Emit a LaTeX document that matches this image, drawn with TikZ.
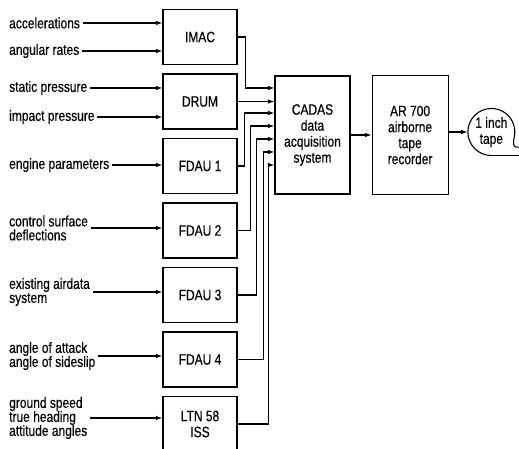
\documentclass[tikz,border=0pt]{standalone}
\usepackage{fontspec}
\setmainfont{Liberation Sans}[FakeStretch=0.8, FakeBold=0.4]
\usetikzlibrary{arrows.meta, positioning, shapes.geometric}
\tikzstyle{arrow} = [line width=1.1pt,-{Latex[length=6.5pt,width=4.5pt]}]
\tikzstyle{line} = [line width=1.1pt]
\tikzstyle{unit} = [rectangle, draw, line width=1.1pt, minimum width=74pt, minimum height=55pt, text centered, align=center, font=\fontsize{15}{16}\selectfont]
\tikzstyle{signal} = [anchor=west, align=left, inner sep=2.5pt, font=\fontsize{15}{14}\selectfont]

\begin{document}
\begin{tikzpicture}[x=1pt, y=1pt, node distance=64.5pt]
\useasboundingbox (0,0) rectangle (519,-449);

% Units
\node (imac) [unit] at (200,-37) {IMAC};
\node (drum) [unit, below of=imac] {DRUM};
\node (fdauone) [unit, below of=drum] {FDAU 1};
\node (fdautwo) [unit, below of=fdauone] {FDAU 2};
\node (fdauthree) [unit, below of=fdautwo] {FDAU 3};
\node (fdaufour) [unit, below of=fdauthree] {FDAU 4};
\node (ltn) [unit, below of=fdaufour] {LTN 58\\ISS};

\node (cadas) [unit, minimum width=75pt, minimum height=118pt] at (312.5,-135) {CADAS\\data\\acquisition\\system};
\node (recorder) [unit, minimum width=76pt, minimum height=119pt, right=21pt of cadas] {AR 700\\airborne\\tape\\recorder};
\node (tape) [circle, minimum size=47pt, inner sep=0pt, align=center, font=\fontsize{15}{16}\selectfont, right=19pt of recorder, yshift=3pt] {1 inch\\tape};

% Signals
\node (accel) [signal] at (6.5,-23) {accelerations};
\node (rates) [signal] at (6.5,-51) {angular rates};
\node (static) [signal] at (6.5,-88) {static pressure};
\node (impact) [signal] at (6.5,-117) {impact pressure};
\node (engine) [signal] at (6.5,-165) {engine parameters};
\node (surface) [signal] at (6.5,-228) {control surface\\deflections};
\node (airdata) [signal] at (6.5,-292) {existing airdata\\system};
\node (attack) [signal] at (6.5,-356) {angle of attack\\angle of sideslip};
\node (nav) [signal] at (6.5,-418) {ground speed\\true heading\\attitude angles};

\draw [arrow] (accel.east) -- (accel.east -| imac.west);
\draw [arrow] (rates.east) -- (rates.east -| imac.west);
\draw [arrow] (static.east) -- (static.east -| drum.west);
\draw [arrow] (impact.east) -- (impact.east -| drum.west);
\draw [arrow] (engine.east) -- (engine.east -| fdauone.west);
\draw [arrow] (surface.east) -- (surface.east -| fdautwo.west);
\draw [arrow] (airdata.east) -- (airdata.east -| fdauthree.west);
\draw [arrow] (attack.east) -- (attack.east -| fdaufour.west);
\draw [arrow] (nav.east) -- (nav.east -| ltn.west);

% Inputs of the acquisition system
\coordinate (in1) at (cadas.west |- 0,-88);
\coordinate (in3) at (cadas.west |- 0,-113);
\coordinate (in4) at (cadas.west |- 0,-126);
\coordinate (in5) at (cadas.west |- 0,-139);
\coordinate (in6) at (cadas.west |- 0,-152);
\coordinate (in7) at (cadas.west |- 0,-165);

\draw [arrow] (imac.east) -- ++(8,0) |- (in1);
\draw [arrow] (drum.east) -- (drum.east -| cadas.west);
\draw [arrow] (fdauone.east) -- ++(7,0) |- (in3);
\draw [arrow] (fdautwo.east) -- ++(13,0) |- (in4);
\draw [arrow] (fdauthree.east) -- ++(19,0) |- (in5);
\draw [arrow] (fdaufour.east) -- ++(26,0) |- (in6);
\draw [arrow] (ltn.east) -- ++(31,0) |- (in7);

\draw [arrow] (cadas) -- (recorder);
\draw [arrow] (recorder.east |- tape.west) -- (tape.west);

% Tape reel
\draw [line] (tape.center) ++(0,-23.5) arc[start angle=270, end angle=-15, radius=23.5pt] .. controls +(-100:4) and +(180:3) .. ++(2,-9) -- ++(12,0);
\draw [line] (tape.center) ++(0,-23.5) -- ++(40,0);

\end{tikzpicture}
\end{document}
